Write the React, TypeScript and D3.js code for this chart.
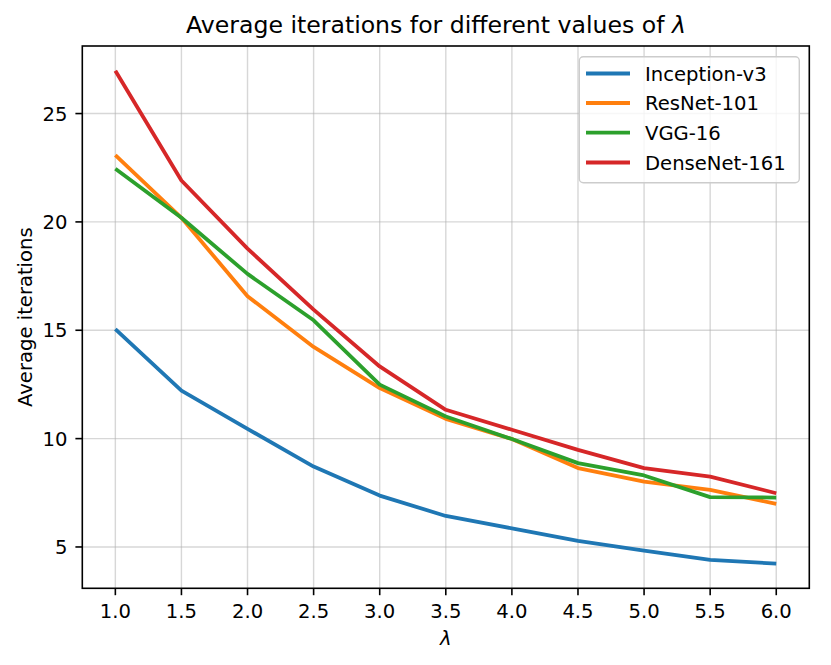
import React from "react";
import * as d3 from "d3";

const lambdas = [1.0, 1.5, 2.0, 2.5, 3.0, 3.5, 4.0, 4.5, 5.0, 5.5, 6.0];
const inceptionV3 = [15.05, 12.21, 10.45, 8.71, 7.37, 6.43, 5.86, 5.28, 4.83, 4.4, 4.23];
const resnet101 = [23.08, 20.19, 16.57, 14.23, 12.33, 10.91, 9.98, 8.64, 8.02, 7.63, 6.99];
const vgg16 = [22.45, 20.19, 17.6, 15.46, 12.49, 11.02, 9.98, 8.87, 8.3, 7.3, 7.28];
const densenet161 = [26.98, 21.91, 18.77, 15.95, 13.33, 11.33, 10.41, 9.48, 8.64, 8.25, 7.48];
const seriesNames = ["Inception-v3", "ResNet-101", "VGG-16", "DenseNet-161"];
const seriesColors = ["#1f77b4", "#ff7f0e", "#2ca02c", "#d62728"];
const xTicks = [1.0, 1.5, 2.0, 2.5, 3.0, 3.5, 4.0, 4.5, 5.0, 5.5, 6.0];
const yTicks = [5, 10, 15, 20, 25];

const W = 831;
const H = 665;
const L = 82.3, R = 809.3, T = 46, B = 588.3;
const FONT = "DejaVu Sans, sans-serif";
const FS = 19.6;

export default function App() {
  const allSeries = [inceptionV3, resnet101, vgg16, densenet161];
  const all = allSeries.flat();
  const ymin = d3.min(all)!, ymax = d3.max(all)!;
  const pad = (ymax - ymin) * 0.05;
  const x = d3.scaleLinear().domain([0.75, 6.25]).range([L, R]);
  const y = d3.scaleLinear().domain([ymin - pad, ymax + pad]).range([B, T]);
  const line = d3.line<number>().x((_, i) => x(lambdas[i])).y((d) => y(d));

  const legX = 579.3, legY = 56.7, legW = 220, legH = 126;
  const rowY = [73.5, 103, 132.7, 162.5];

  return (
    <svg width={W} height={H} style={{ position: "absolute", left: 0, top: 0, background: "#fff" }} fontFamily={FONT}>
      <rect x={0} y={0} width={W} height={H} fill="#fff" />
      {/* grid */}
      {xTicks.map((t) => (
        <line key={"gx" + t} x1={x(t)} x2={x(t)} y1={T} y2={B} stroke="#b0b0b0" strokeOpacity={0.5} strokeWidth={1.4} />
      ))}
      {yTicks.map((t) => (
        <line key={"gy" + t} x1={L} x2={R} y1={y(t)} y2={y(t)} stroke="#b0b0b0" strokeOpacity={0.5} strokeWidth={1.4} />
      ))}
      {/* lines */}
      {allSeries.map((s, i) => (
        <path key={i} d={line(s)!} fill="none" stroke={seriesColors[i]} strokeWidth={3.8} strokeLinejoin="round" strokeLinecap="butt" />
      ))}
      {/* spines */}
      <rect x={L} y={T} width={R - L} height={B - T} fill="none" stroke="#000" strokeWidth={1.6} />
      {/* x ticks */}
      {xTicks.map((t) => (
        <g key={"xt" + t}>
          <line x1={x(t)} x2={x(t)} y1={B} y2={B + 6.9} stroke="#000" strokeWidth={1.6} />
          <text x={x(t)} y={618.3} textAnchor="middle" fontSize={FS} fill="#000">
            {t.toFixed(1)}
          </text>
        </g>
      ))}
      {/* y ticks */}
      {yTicks.map((t) => (
        <g key={"yt" + t}>
          <line x1={L - 6.9} x2={L} y1={y(t)} y2={y(t)} stroke="#000" strokeWidth={1.6} />
          <text x={67.5} y={y(t)} dy="0.36em" textAnchor="end" fontSize={FS} fill="#000">
            {t}
          </text>
        </g>
      ))}
      {/* axis labels */}
      <text x={(L + R) / 2} y={645} textAnchor="middle" fontSize={FS} fontStyle="italic" fill="#000">
        λ
      </text>
      <text transform={`translate(31.5,${(T + B) / 2}) rotate(-90)`} textAnchor="middle" fontSize={FS} fill="#000">
        Average iterations
      </text>
      {/* title */}
      <text x={436} y={33} textAnchor="middle" fontSize={23.6} fill="#000">
        Average iterations for different values of <tspan fontStyle="italic">λ</tspan>
      </text>
      {/* legend */}
      <rect x={legX} y={legY} width={legW} height={legH} rx={4} ry={4} fill="#fff" fillOpacity={0.8} stroke="#cccccc" strokeWidth={1.4} />
      {seriesNames.map((n, i) => (
        <g key={n}>
          <line x1={586} x2={630} y1={rowY[i]} y2={rowY[i]} stroke={seriesColors[i]} strokeWidth={3.8} />
          <text x={645} y={rowY[i]} dy="0.36em" fontSize={FS} fill="#000">
            {n}
          </text>
        </g>
      ))}
    </svg>
  );
}
